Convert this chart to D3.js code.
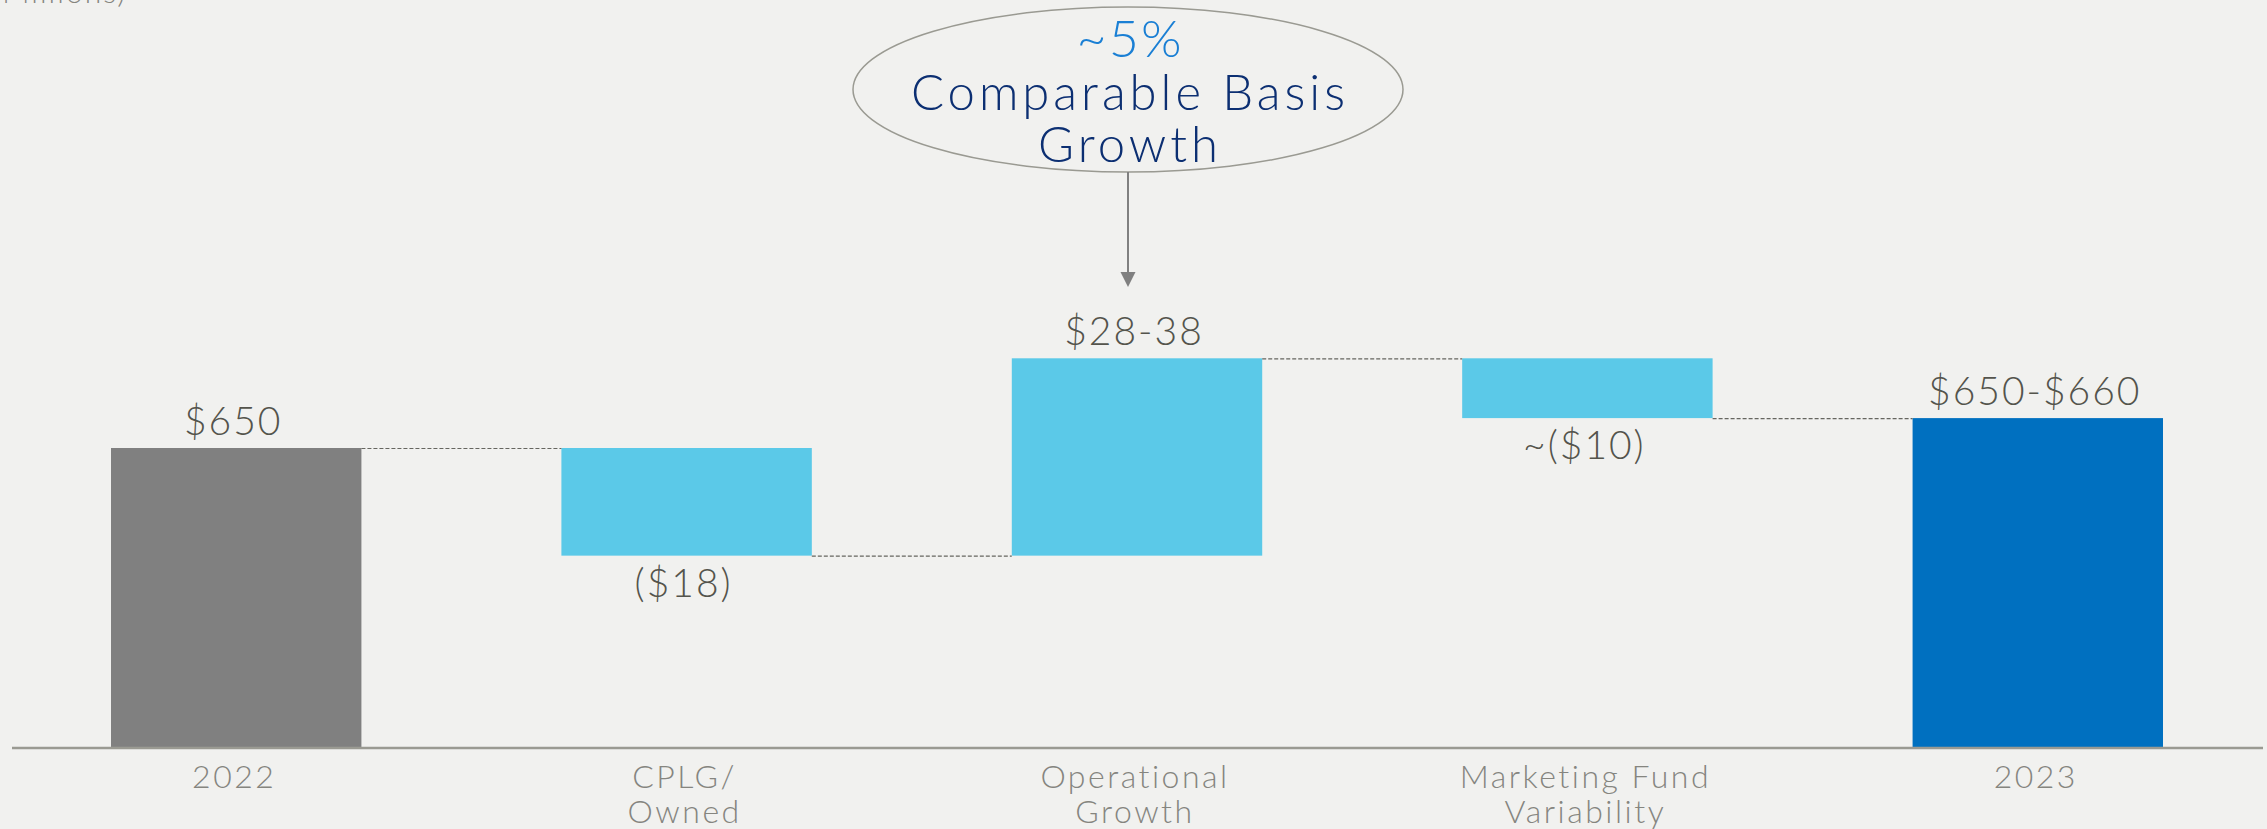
<!DOCTYPE html>
<html>
<head>
<meta charset="utf-8">
<script src="https://cdn.jsdelivr.net/npm/d3@7"></script>
<style>
  html, body { margin: 0; padding: 0; background: #f1f1ef; }
  svg { display: block; font-family: Lato, "Open Sans", sans-serif; }
</style>
</head>
<body>
<svg id="chart" width="2267" height="829"></svg>
<script>
// waterfall data ($ millions)
const categories = ["2022", "CPLG/", "Operational", "Marketing Fund", "2023"];
const categoryLine2 = ["", "Owned", "Growth", "Variability", ""];
const values = [650, -18, 33, -10, 655];
const kinds = ["total", "delta", "delta", "delta", "total"];
const valueLabels = ["$650", "($18)", "$28-38", "~($10)", "$650-$660"];
const barColors = ["#808080", "#5bc9e8", "#5bc9e8", "#5bc9e8", "#0070c0"];

const calloutTop = "~5%";
const calloutLines = ["Comparable Basis", "Growth"];

const W = 2267, H = 829;
const svg = d3.select("#chart");

// build running totals
let running = 0;
const bars = values.map((v, i) => {
    let lo, hi;
    if (kinds[i] == "total") {
        lo = null; hi = v; running = v;
    } else {
        let prev = running;
        running = running + v;
        lo = Math.min(prev, running); hi = Math.max(prev, running);
    }
    return {cat: categories[i], i: i, v: v, lo: lo, hi: hi, end: running};
});

let x = d3.scaleBand()
    .domain(categories)
    .range([111, 2163])
    .paddingInner(0.444)
    .paddingOuter(0);

// axis is cut off above zero like the original slide
let y = d3.scaleLinear()
    .domain([600, 650])
    .range([747, 448]);

const baseY = y.range()[0];

svg.selectAll(".bar")
    .data(bars)
    .join("rect")
    .classed("bar", true)
    .attr("x", d => x(d.cat))
    .attr("width", x.bandwidth())
    .attr("y", d => y(d.hi))
    .attr("height", d => (d.lo == null ? baseY : y(d.lo)) - y(d.hi))
    .attr("fill", (d, i) => barColors[i]);

// dashed connectors
svg.selectAll(".connector")
    .data(bars.slice(0, -1))
    .join("line")
    .classed("connector", true)
    .attr("x1", d => x(d.cat) + x.bandwidth())
    .attr("x2", d => x(categories[d.i + 1]))
    .attr("y1", d => y(d.end) + 0.5)
    .attr("y2", d => y(d.end) + 0.5)
    .attr("stroke", "#666660")
    .attr("stroke-width", 1.2)
    .attr("stroke-dasharray", "4,2");

// axis line
svg.append("line")
    .attr("x1", 12).attr("x2", 2263)
    .attr("y1", baseY + 1).attr("y2", baseY + 1)
    .attr("stroke", "#9a9a92")
    .attr("stroke-width", 2.5);

// value labels
svg.selectAll(".valLabel")
    .data(bars)
    .join("text")
    .classed("valLabel", true)
    .attr("x", d => x(d.cat) + x.bandwidth() / 2 - 3)
    .attr("y", d => d.v < 0 ? y(d.lo) + 41 : y(d.hi) - 13)
    .attr("text-anchor", "middle")
    .attr("font-size", 39)
    .attr("font-weight", 300)
    .attr("letter-spacing", 2)
    .attr("fill", "#54544c")
    .text((d, i) => valueLabels[i]);

// category labels
let catG = svg.selectAll(".catLabel")
    .data(bars)
    .join("text")
    .classed("catLabel", true)
    .attr("x", d => x(d.cat) + x.bandwidth() / 2 - 2)
    .attr("y", 788)
    .attr("text-anchor", "middle")
    .attr("font-size", 32)
    .attr("font-weight", 300)
    .attr("letter-spacing", 2.5)
    .attr("fill", "#85857f");

catG.append("tspan").text(d => d.cat);
catG.append("tspan")
    .attr("x", d => x(d.cat) + x.bandwidth() / 2 - 2)
    .attr("dy", 35)
    .text((d, i) => categoryLine2[i]);

// units note, mostly cut off at the top edge
svg.append("text")
    .attr("x", 127).attr("y", 3)
    .attr("text-anchor", "end")
    .attr("font-size", 30)
    .attr("font-weight", 300)
    .attr("letter-spacing", 2)
    .attr("fill", "#85857f")
    .text("($ Millions)");

// callout ellipse + arrow
let cx = x("Operational") + x.bandwidth() / 2 - 9;
svg.append("ellipse")
    .attr("cx", cx).attr("cy", 89.5)
    .attr("rx", 275).attr("ry", 82.5)
    .attr("fill", "none")
    .attr("stroke", "#9a9a92")
    .attr("stroke-width", 1.5);

svg.append("line")
    .attr("x1", cx).attr("x2", cx)
    .attr("y1", 172).attr("y2", 274)
    .attr("stroke", "#808080")
    .attr("stroke-width", 2);

svg.append("path")
    .attr("d", `M${cx - 7.5},272 L${cx + 7.5},272 L${cx},287 Z`)
    .attr("fill", "#808080");

svg.append("text")
    .attr("x", cx + 2).attr("y", 57)
    .attr("text-anchor", "middle")
    .attr("font-size", 52)
    .attr("font-weight", 300)
    .attr("letter-spacing", 2)
    .attr("fill", "#1a7fd4")
    .text(calloutTop);

svg.selectAll(".calloutLine")
    .data(calloutLines)
    .join("text")
    .classed("calloutLine", true)
    .attr("x", cx + 2)
    .attr("y", (d, i) => 110 + i * 52)
    .attr("text-anchor", "middle")
    .attr("font-size", 49)
    .attr("font-weight", 300)
    .attr("letter-spacing", 4)
    .attr("fill", "#0c2f72")
    .text(d => d);
</script>
</body>
</html>
